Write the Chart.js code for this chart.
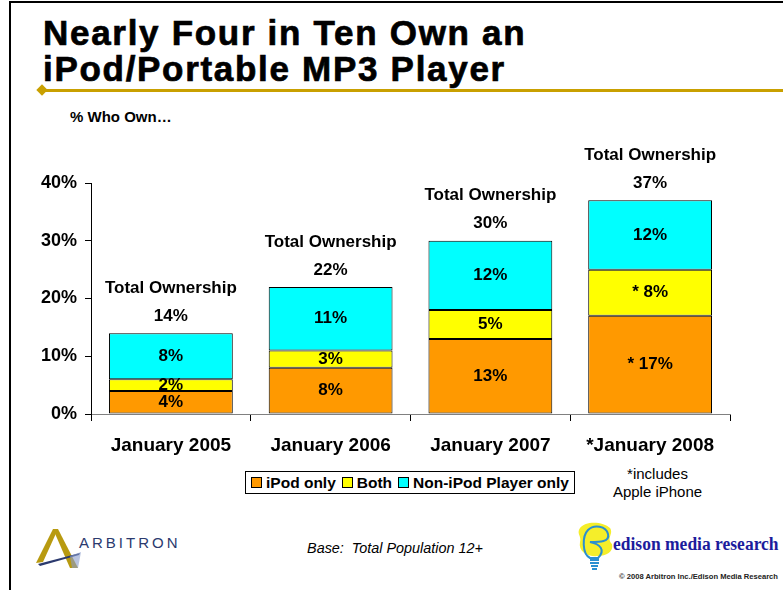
<!DOCTYPE html>
<html>
<head>
<meta charset="utf-8">
<title>Nearly Four in Ten Own an iPod/Portable MP3 Player</title>
<script src="https://cdn.jsdelivr.net/npm/chart.js@4.4.1/dist/chart.umd.min.js"></script>
<style>
  html, body { margin: 0; padding: 0; background: #fff; }
  body { width: 783px; height: 590px; position: relative; overflow: hidden; font-family: "Liberation Sans", Arial, sans-serif; color: #000; }
  #frame { position: absolute; left: 9px; top: 1px; width: 790px; height: 600px; border-left: 2px solid #000; border-top: 2px solid #000; }
  #chartWrap { position: absolute; left: 0; top: 0; width: 783px; height: 460px; }
  #title { position: absolute; left: 43px; top: 15px; font-weight: bold; font-size: 35px; line-height: 36px; letter-spacing: 1.7px; -webkit-text-stroke: 0.7px #000; }
  #rule { position: absolute; left: 43px; top: 89px; width: 760px; height: 3px; background: #c9a000; }
  #diamond { position: absolute; left: 38px; top: 86px; width: 8px; height: 8px; background: #c9a000; transform: rotate(45deg); }
  #subtitle { position: absolute; left: 70px; top: 108px; font-weight: bold; font-size: 15px; }
  #legend { position: absolute; left: 245px; top: 471px; width: 328px; height: 21px; border: 1px solid #000; display: flex; align-items: center; justify-content: center; font-weight: bold; font-size: 15.5px; white-space: nowrap; }
  #legend span.item { display: inline-flex; align-items: center; margin: 0 3px; }
  #legend span.box { display: inline-block; width: 9px; height: 9px; border: 1px solid #000; margin-right: 4px; }
  #note { position: absolute; left: 590px; top: 465px; width: 135px; text-align: center; font-size: 15px; line-height: 18px; }
  #base { position: absolute; left: 290px; top: 540px; width: 210px; text-align: center; font-style: italic; font-size: 14.4px; white-space: pre; }
  #arbitron { position: absolute; left: 79px; top: 534px; font-size: 15px; letter-spacing: 3px; color: #2b3a6e; }
  #edison { position: absolute; left: 613px; top: 533px; font-family: "Liberation Serif", "Times New Roman", serif; font-weight: bold; font-size: 17.5px; color: #1c1c9c; white-space: nowrap; transform: scaleY(1.12); transform-origin: left center; }
  #copy { position: absolute; right: 5px; top: 572px; font-weight: bold; font-size: 7.6px; color: #222; white-space: nowrap; }
  svg { position: absolute; }
</style>
</head>
<body>
<div id="frame"></div>
<div id="title">Nearly Four in Ten Own an<br>iPod/Portable MP3 Player</div>
<div id="rule"></div>
<div id="diamond"></div>
<div id="subtitle">% Who Own…</div>
<div id="chartWrap"><canvas id="ownChart" width="783" height="460"></canvas></div>
<div id="legend"></div>
<div id="note">*includes<br>Apple iPhone</div>
<div id="base">Base:  Total Population 12+</div>

<svg style="left:34px;top:526px" width="50" height="46" viewBox="0 0 50 46">
  <polygon points="2,37 19,3 24,3 9,36" fill="#b89a10"/>
  <polygon points="19,3 24,3 44,42 36,42" fill="#b89a10"/>
  <polygon points="4,38 46,27 45,29 6,40" fill="#2b3a6e"/>
  <polygon points="36,30 47,26 44,42 38,42" fill="#8a9ccc" opacity="0.6"/>
</svg>
<div id="arbitron">ARBITRON</div>

<svg style="left:576px;top:520px" width="40" height="54" viewBox="0 0 40 54">
  <path d="M4,8 C10,0 28,2 34,8 C38,14 30,18 36,24 C38,32 30,36 22,36 C12,37 2,32 4,22 C6,16 0,14 4,8 Z" fill="#f5ee2a"/>
  <path d="M14,38 C6,34 6,16 12,10 C18,4 30,6 32,14 C34,22 24,22 14,22 C24,24 30,30 22,38 Z" fill="none" stroke="#2a8fd0" stroke-width="2"/>
  <rect x="14" y="38" width="9" height="3" fill="#2a8fd0"/>
  <rect x="14" y="42" width="9" height="2" fill="#2a8fd0"/>
  <rect x="15" y="45" width="7" height="2" fill="#2a8fd0"/>
  <rect x="16" y="48" width="5" height="2" fill="#2a8fd0"/>
</svg>
<div id="edison">edison media research</div>
<div id="copy">© 2008 Arbitron Inc./Edison Media Research</div>

<script>
// chart data
const categories = ["January 2005", "January 2006", "January 2007", "*January 2008"];
const yTickLabels = ["0%", "10%", "20%", "30%", "40%"];

const seriesNames = ["iPod only", "Both", "Non-iPod Player only"];
const seriesColors = ["#ff9900", "#ffff00", "#00ffff"];

const ipodOnly = [4, 8, 13, 17];
const bothPlayers = [2, 3, 5, 8];
const nonIpodOnly = [8, 11, 12, 12];
const totalOwnership = [14, 22, 30, 37];

// "*" = includes Apple iPhone
const ipodMarks = ["", "", "", "* "];
const bothMarks = ["", "", "", "* "];
const nonIpodMarks = ["", "", "", ""];

const FONT = '"Liberation Sans", Arial, sans-serif';

// legend box under the chart
document.getElementById("legend").innerHTML = seriesNames
  .map((name, i) => `<span class="item"><span class="box" style="background:${seriesColors[i]}"></span>${name}</span>`)
  .join("");

// draws segment values + total ownership above each stack
const valueLabels = {
  id: "valueLabels",
  afterDatasetsDraw(chart) {
    const ctx = chart.ctx;
    ctx.save();
    ctx.font = `bold 17px ${FONT}`;
    ctx.fillStyle = "#000";
    ctx.textAlign = "center";
    ctx.textBaseline = "middle";
    chart.data.datasets.forEach((ds, di) => {
      chart.getDatasetMeta(di).data.forEach((bar, i) => {
        ctx.fillText(ds.marks[i] + ds.data[i] + "%", bar.x, (bar.y + bar.base) / 2);
      });
    });
    const last = chart.data.datasets.length - 1;
    chart.getDatasetMeta(last).data.forEach((bar, i) => {
      ctx.fillText("Total Ownership", bar.x, bar.y - 45);
      ctx.fillText(totalOwnership[i] + "%", bar.x, bar.y - 17);
    });
    ctx.restore();
  }
};

const seriesData = [ipodOnly, bothPlayers, nonIpodOnly];
const seriesMarks = [ipodMarks, bothMarks, nonIpodMarks];

new Chart(document.getElementById("ownChart"), {
  type: "bar",
  data: {
    labels: categories,
    datasets: seriesNames.map((name, i) => ({
      label: name,
      data: seriesData[i],
      marks: seriesMarks[i],
      backgroundColor: seriesColors[i],
      borderColor: "#000",
      borderWidth: 1,
      borderSkipped: false,
      categoryPercentage: 1,
      barPercentage: 0.775
    }))
  },
  options: {
    responsive: false,
    animation: false,
    layout: { padding: { left: 0, right: 53, top: 183, bottom: 0 } },
    plugins: {
      legend: { display: false },
      tooltip: { enabled: false }
    },
    scales: {
      x: {
        stacked: true,
        grid: { offset: true, drawOnChartArea: false, tickLength: 7, color: "#000" },
        border: { color: "#808080" },
        ticks: { color: "#000", padding: 13, font: { family: FONT, size: 19, weight: "bold" } },
        afterFit: s => { s.height = 46; }
      },
      y: {
        stacked: true,
        min: 0,
        max: 40,
        grid: { drawOnChartArea: false, tickLength: 6, color: "#000" },
        border: { color: "#000" },
        ticks: {
          stepSize: 10,
          color: "#000",
          padding: 8,
          font: { family: FONT, size: 18, weight: "bold" },
          callback: (v, i) => yTickLabels[i]
        },
        afterFit: s => { s.width = 91; }
      }
    }
  },
  plugins: [valueLabels]
});
</script>
</body>
</html>
